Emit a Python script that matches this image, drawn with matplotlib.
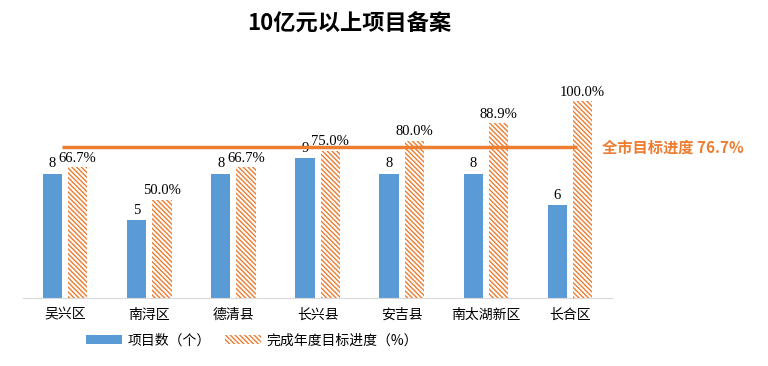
import numpy as np
import matplotlib.pyplot as plt
from matplotlib.patches import Patch

plt.rcParams['font.family'] = ['Noto Sans CJK SC', 'DejaVu Sans']
plt.rcParams['hatch.linewidth'] = 1.0

regions = ['吴兴区', '南浔区', '德清县', '长兴县', '安吉县', '南太湖新区', '长合区']
counts = [8, 5, 8, 9, 8, 8, 6]
progress = [66.7, 50.0, 66.7, 75.0, 80.0, 88.9, 100.0]
city_target = 76.7

BLUE = '#5B9BD5'
ORANGE = '#ED7D31'
HATCH = '\\' * 7
NUM_FONT = ['Liberation Serif', 'Noto Sans CJK SC']

fig = plt.figure(figsize=(7.68, 3.66), dpi=100)
ax = fig.add_axes([0.030, 0.186, 0.767, 0.650])
ax2 = ax.twinx()

x = np.arange(len(regions))
w = 0.23
off = 0.15

ax.bar(x - off, counts, w, color=BLUE, zorder=2)
ax2.bar(x + off, progress, w, facecolor='white', edgecolor=ORANGE,
        hatch=HATCH, linewidth=0, zorder=2)

ax.set_ylim(0, 15.3)
ax2.set_ylim(0, 121.1)
ax.set_xlim(-0.5, len(regions) - 0.5)

for xi, c in zip(x, counts):
    ax.text(xi - off, c + 0.2, str(c), ha='center', va='bottom',
            fontsize=10.5, family=NUM_FONT)
for xi, p in zip(x, progress):
    ax2.text(xi + off, p + 1.2, f'{p:.1f}%', ha='center', va='bottom',
             fontsize=10.5, family=NUM_FONT)

# city-wide target line
ax2.plot([x[0] - 0.04, x[-1] + 0.08], [city_target, city_target],
         color=ORANGE, lw=2.5, zorder=3, solid_capstyle='butt')
ax2.text(x[-1] + 0.38, city_target, f'全市目标进度 {city_target}%',
         color=ORANGE, fontsize=11, fontweight='bold', va='center', ha='left')

for a in (ax, ax2):
    for s in ('top', 'left', 'right'):
        a.spines[s].set_visible(False)
    a.set_yticks([])
ax.spines['bottom'].set_color('#D9D9D9')
ax2.spines['bottom'].set_visible(False)
ax.set_xticks(x)
ax.set_xticklabels(regions, fontsize=10)
ax.tick_params(axis='x', length=0, pad=7)

fig.text(0.455, 0.935, '10亿元以上项目备案', ha='center', va='center',
         fontsize=16, fontweight='bold')

handles = [Patch(facecolor=BLUE, label='项目数（个）'),
           Patch(facecolor='white', edgecolor=ORANGE, hatch=HATCH,
                 linewidth=0, label='完成年度目标进度（%）')]
fig.legend(handles=handles, loc='center', bbox_to_anchor=(0.328, 0.07),
           ncol=2, frameon=False, fontsize=10, handlelength=2.6,
           handleheight=0.7, columnspacing=1.0, handletextpad=0.4)

fig.savefig('out.png', dpi=100)
